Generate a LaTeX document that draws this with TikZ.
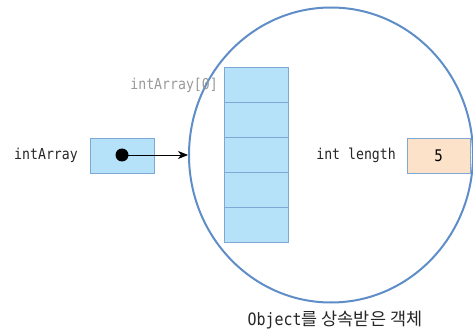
\documentclass[tikz,border=0pt]{standalone}
\usepackage{fontspec}
\newfontfamily\codefont[FakeStretch=0.88]{DejaVu Sans Mono}
\newfontfamily\krfont{Noto Sans CJK KR}
\usetikzlibrary{arrows.meta, shapes.geometric, positioning}
\definecolor{cellblue}{HTML}{B5E2F8}
\definecolor{celledge}{HTML}{7FA9D4}
\definecolor{ringblue}{HTML}{5E8DC8}
\definecolor{peach}{HTML}{FCE2C8}
\tikzset{
  cell/.style={draw=celledge, fill=cellblue, minimum width=64pt, minimum height=35pt, inner sep=0pt, line width=0.8pt},
  lbl/.style={font=\codefont\fontsize{15}{17}\selectfont, text=black!85, inner sep=0pt}
}

\begin{document}
\begin{tikzpicture}[x=1pt, y=-1pt]
    \useasboundingbox (0, 0) rectangle (473, 331);
    % the object
    \node (obj) at (331, 155) [ellipse, draw=ringblue, line width=2pt, minimum width=284pt, minimum height=295pt, inner sep=0pt] {};
    \node [lbl, font=\codefont\fontsize{17}{19}\selectfont] (cap) at (335, 320) {Object{\krfont\fontsize{17.5}{19}\selectfont 를 상속받은 객체}};
    % array cells
    \foreach \i in {0,...,4}
        \node [cell] (cell\i) at (256.5, 84.5 + 35*\i) {};
    \node [lbl, text=black!40, anchor=east] (first) at (218, 85) {intArray[0]};
    % length field
    \node [lbl, anchor=east] (lenlbl) at (396, 155) {int length};
    \node [cell, fill=peach, minimum width=63pt, font=\codefont\fontsize{16}{18}\selectfont] (len) at (438.5, 155.5) {5};
    % reference variable
    \node [lbl, anchor=east] (ref) at (78, 155) {intArray};
    \node [cell] (refbox) at (122, 155.5) {};
    \node [circle, fill=black, inner sep=0pt, minimum size=13pt] (dot) at (122, 155) {};
    \draw [-{Stealth[length=10pt, width=8pt, inset=3pt]}, line width=0.8pt] (dot.center) -- (obj.west);
\end{tikzpicture}
\end{document}
